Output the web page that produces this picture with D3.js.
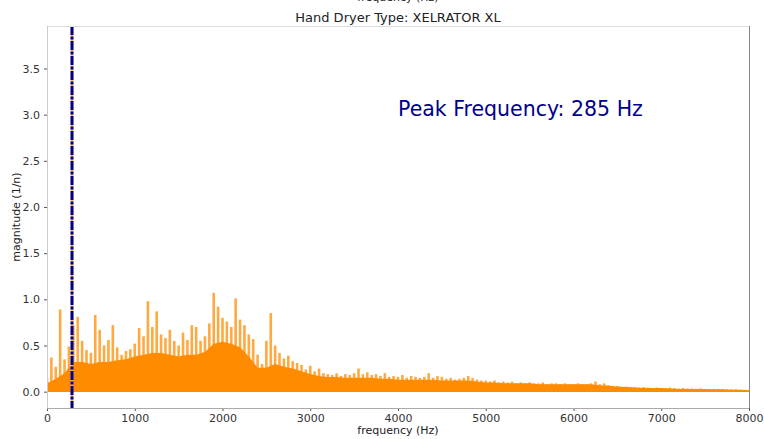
<!DOCTYPE html>
<html>
<head>
<meta charset="utf-8">
<script src="https://cdn.jsdelivr.net/npm/d3@7"></script>
<style>
  body { margin: 0; background: #fff; }
  svg text { font-family: "DejaVu Sans", sans-serif; }
</style>
</head>
<body>
<div id="chart"></div>
<script>
// spike heights, one every 50 Hz (0 .. 8000)
var peakStep = 50;
var peaks = [
  0.15, 0.37, 0.27, 0.89, 0.35, 0.49, 0.72, 0.81, 0.55, 0.45,
  0.42, 0.83, 0.67, 0.50, 0.56, 0.72, 0.48, 0.40, 0.44, 0.46,
  0.52, 0.69, 0.60, 0.98, 0.70, 0.87, 0.62, 0.58, 0.67, 0.55,
  0.50, 0.64, 0.56, 0.72, 0.70, 0.55, 0.60, 0.74, 1.07, 0.92,
  0.80, 0.76, 0.70, 1.01, 0.78, 0.72, 0.62, 0.57, 0.40, 0.30,
  0.55, 0.85, 0.50, 0.42, 0.36, 0.39, 0.33, 0.31, 0.29, 0.24,
  0.28, 0.22, 0.25, 0.20, 0.19, 0.18, 0.20, 0.17, 0.19, 0.18,
  0.20, 0.25, 0.19, 0.21, 0.18, 0.19, 0.17, 0.20, 0.16, 0.17,
  0.16, 0.18, 0.15, 0.17, 0.16, 0.15, 0.16, 0.20, 0.15, 0.17,
  0.16, 0.14, 0.15, 0.13, 0.14, 0.15, 0.17, 0.15, 0.13, 0.12,
  0.12, 0.11, 0.12, 0.10, 0.11, 0.10, 0.11, 0.09, 0.10, 0.09,
  0.10, 0.09, 0.09, 0.10, 0.08, 0.09, 0.09, 0.08, 0.09, 0.08,
  0.08, 0.09, 0.08, 0.08, 0.09, 0.11, 0.08, 0.09, 0.07, 0.06,
  0.06, 0.05, 0.055, 0.05, 0.05, 0.045, 0.05, 0.045, 0.04, 0.045,
  0.04, 0.04, 0.045, 0.04, 0.035, 0.04, 0.035, 0.035, 0.03, 0.035,
  0.03, 0.03, 0.03, 0.03, 0.028, 0.025, 0.025, 0.025, 0.022, 0.02,
  0.018
];

// dense (solid) level of the spectrum, one every 100 Hz
var bodyStep = 100;
var body = [
  0.09, 0.14, 0.20, 0.32, 0.32, 0.30, 0.32, 0.32, 0.34, 0.35,
  0.38, 0.40, 0.42, 0.42, 0.40, 0.38, 0.40, 0.40, 0.43, 0.52,
  0.54, 0.52, 0.48, 0.38, 0.26, 0.26, 0.30, 0.27, 0.25, 0.22,
  0.19, 0.17, 0.16, 0.16, 0.15, 0.15, 0.15, 0.15, 0.14, 0.14,
  0.13, 0.13, 0.13, 0.13, 0.13, 0.12, 0.12, 0.12, 0.12, 0.11,
  0.10, 0.10, 0.09, 0.09, 0.09, 0.09, 0.08, 0.08, 0.08, 0.08,
  0.08, 0.08, 0.08, 0.07, 0.065, 0.055, 0.05, 0.045, 0.04, 0.04,
  0.04, 0.035, 0.03, 0.03, 0.03, 0.03, 0.025, 0.025, 0.02, 0.02,
  0.015
];

var peakFreq = 285;
var xTicks = [0, 1000, 2000, 3000, 4000, 5000, 6000, 7000, 8000];
var yTicks = [0.0, 0.5, 1.0, 1.5, 2.0, 2.5, 3.0, 3.5];

var W = 764, H = 439;
var margin = { top: 26, right: 15, bottom: 31, left: 47 },
    width = W - margin.left - margin.right,
    height = H - margin.top - margin.bottom;

var x = d3.scaleLinear().domain([0, 8000]).range([0, width]);
var y = d3.scaleLinear().domain([-0.177, 3.96]).range([height, 0]);

var svg = d3.select('#chart').append('svg')
    .attr('width', W)
    .attr('height', H);

// leftover label from the plot above, clipped at the top edge
svg.append('text')
    .attr('x', margin.left + width / 2)
    .attr('y', 1)
    .attr('text-anchor', 'middle')
    .attr('font-size', 11)
    .attr('fill', '#222')
    .text('frequency (Hz)');

svg.append('text')
    .attr('x', margin.left + width / 2)
    .attr('y', 22)
    .attr('text-anchor', 'middle')
    .attr('font-size', 13)
    .attr('fill', '#222')
    .text('Hand Dryer Type: XELRATOR XL');

var main = svg.append('g')
    .attr('transform', 'translate(' + margin.left + ',' + margin.top + ')');

main.append('clipPath').attr('id', 'clip')
    .append('rect').attr('width', width).attr('height', height);

var plot = main.append('g').attr('clip-path', 'url(#clip)');

var area = d3.area()
    .x(function (d, i) { return x(i * bodyStep); })
    .y0(function () { return y(-0.004); })
    .y1(function (d) { return y(d); });

plot.append('path')
    .datum(body)
    .attr('d', area)
    .attr('fill', '#ff8c00');

plot.selectAll('line.spike')
    .data(peaks)
    .enter().append('line')
    .attr('class', 'spike')
    .attr('x1', function (d, i) { return x(i * peakStep); })
    .attr('x2', function (d, i) { return x(i * peakStep); })
    .attr('y1', y(0))
    .attr('y2', function (d) { return y(d); })
    .attr('stroke', '#ff8c00')
    .attr('stroke-width', 2.6)
    .attr('stroke-opacity', 0.75);

// peak marker
plot.append('line')
    .attr('x1', x(peakFreq)).attr('x2', x(peakFreq))
    .attr('y1', 0).attr('y2', height)
    .attr('stroke', '#ffb04a')
    .attr('stroke-width', 2.5);

plot.append('line')
    .attr('x1', x(peakFreq)).attr('x2', x(peakFreq))
    .attr('y1', 0).attr('y2', height)
    .attr('stroke', '#00008b')
    .attr('stroke-width', 3)
    .attr('stroke-dasharray', '9,1.5,3,1.5');

main.append('text')
    .attr('x', x(4000))
    .attr('y', y(3.0) + 1)
    .attr('font-size', 20.5)
    .attr('fill', '#00008b')
    .text('Peak Frequency: ' + peakFreq + ' Hz');

// axes
var xAxis = main.append('g')
    .attr('transform', 'translate(0,' + height + ')')
    .call(d3.axisBottom(x).tickValues(xTicks).tickSize(3).tickPadding(3)
        .tickFormat(d3.format('d')));

var yAxis = main.append('g')
    .call(d3.axisLeft(y).tickValues(yTicks).tickSize(3).tickPadding(4)
        .tickFormat(d3.format('.1f')));

[xAxis, yAxis].forEach(function (a) {
    a.select('.domain').remove();
    a.selectAll('text')
        .attr('font-size', 11)
        .attr('font-family', '"DejaVu Sans", sans-serif')
        .attr('fill', '#333');
    a.selectAll('line').attr('stroke', '#555');
});

// frame
main.append('line').attr('x1', 0).attr('x2', width).attr('y1', 0.5).attr('y2', 0.5)
    .attr('stroke', '#ddd');
main.append('line').attr('x1', 0.5).attr('x2', 0.5).attr('y1', 0).attr('y2', height)
    .attr('stroke', '#ccc');
main.append('line').attr('x1', 0).attr('x2', width).attr('y1', height + 0.5).attr('y2', height + 0.5)
    .attr('stroke', '#aaa');
main.append('line').attr('x1', width + 0.5).attr('x2', width + 0.5).attr('y1', 0).attr('y2', height)
    .attr('stroke', '#888');

svg.append('text')
    .attr('x', margin.left + width / 2)
    .attr('y', H - 5)
    .attr('text-anchor', 'middle')
    .attr('font-size', 11)
    .attr('fill', '#222')
    .text('frequency (Hz)');

svg.append('text')
    .attr('transform', 'translate(20,' + (margin.top + height / 2) + ') rotate(-90)')
    .attr('text-anchor', 'middle')
    .attr('font-size', 11)
    .attr('fill', '#222')
    .text('magnitude (1/n)');
</script>
</body>
</html>
